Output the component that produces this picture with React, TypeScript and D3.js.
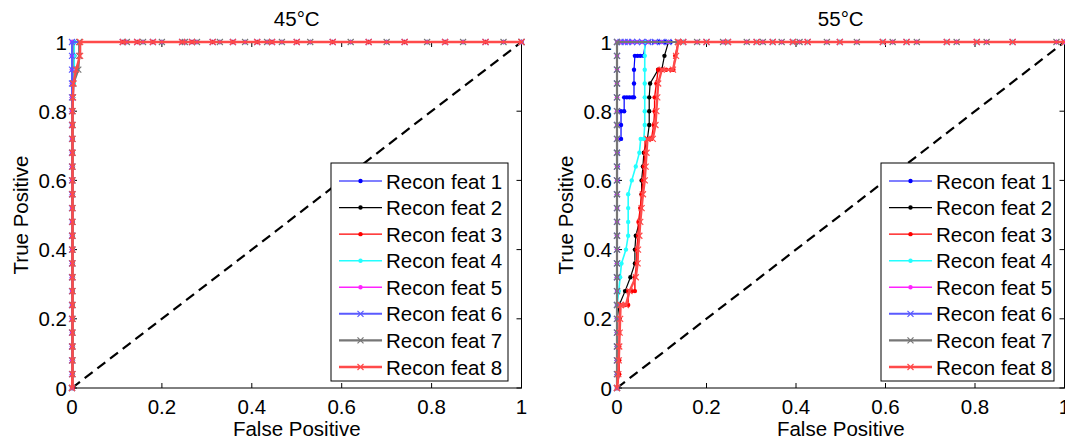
import React from 'react';
import * as d3 from 'd3';

type Pt = [number, number];

const LEGEND_LABELS = ['Recon feat 1', 'Recon feat 2', 'Recon feat 3', 'Recon feat 4', 'Recon feat 5', 'Recon feat 6', 'Recon feat 7', 'Recon feat 8'];
const TICK_VALUES = [0, 0.2, 0.4, 0.6, 0.8, 1];
const TICK_LABELS = ['0', '0.2', '0.4', '0.6', '0.8', '1'];
const TITLES = ['45\u00B0C', '55\u00B0C'];
const X_LABEL = 'False Positive';
const Y_LABEL = 'True Positive';
const CHANCE: Pt[] = [[0, 0], [1, 1]];

// ---------- 45°C ----------
const COL45_X0: Pt[] = [[0, 0], [0, 0.04], [0, 0.08], [0, 0.12], [0, 0.16], [0, 0.2], [0, 0.24], [0, 0.28], [0, 0.32], [0, 0.36], [0, 0.4], [0, 0.44], [0, 0.48], [0, 0.52], [0, 0.56], [0, 0.6], [0, 0.64], [0, 0.68], [0, 0.72], [0, 0.76], [0, 0.8], [0, 0.84], [0, 0.88], [0, 0.92], [0, 0.96], [0, 1]];
const COL45_X2: Pt[] = [[0.002, 0], [0.002, 0.04], [0.002, 0.08], [0.002, 0.12], [0.002, 0.16], [0.002, 0.2], [0.002, 0.24], [0.002, 0.28], [0.002, 0.32], [0.002, 0.36], [0.002, 0.4], [0.002, 0.44], [0.002, 0.48], [0.002, 0.52], [0.002, 0.56], [0.002, 0.6], [0.002, 0.64], [0.002, 0.68], [0.002, 0.72], [0.002, 0.76], [0.002, 0.8], [0.002, 0.84], [0.002, 0.88], [0.002, 0.92], [0.002, 0.96], [0.002, 1]];
const LOW45_X1: Pt[] = [[0, 0], [0.001, 0.04], [0.001, 0.08], [0.001, 0.12], [0.001, 0.16], [0.001, 0.2], [0.001, 0.24], [0.001, 0.28], [0.001, 0.32], [0.001, 0.36], [0.001, 0.4], [0.001, 0.44], [0.001, 0.48], [0.001, 0.52], [0.001, 0.56], [0.001, 0.6], [0.001, 0.64], [0.001, 0.68], [0.001, 0.72], [0.001, 0.76], [0.001, 0.8], [0.002, 0.84]];
const UP45_2: Pt[] = [[0.003, 0.88], [0.005, 0.92], [0.005, 0.96], [0.005, 1]];
const UP45_4: Pt[] = [[0.004, 0.88], [0.005, 0.92], [0.005, 0.96], [0.005, 1]];
const UP45_7: Pt[] = [[0.003, 0.88], [0.014, 0.92], [0.016, 0.96], [0.016, 1]];
const UP45_8: Pt[] = [[0.003, 0.88], [0.009, 0.92], [0.018, 0.96], [0.018, 1]];
const TOP45_A: Pt[] = [[0.113, 1], [0.145, 1], [0.18, 1], [0.245, 1], [0.267, 1], [0.313, 1], [0.358, 1], [0.412, 1], [0.445, 1], [0.5, 1], [0.58, 1], [0.66, 1], [0.74, 1], [0.83, 1], [0.92, 1], [1, 1]];
const TOP45_B: Pt[] = [[0.122, 1], [0.158, 1], [0.2, 1], [0.251, 1], [0.278, 1], [0.329, 1], [0.385, 1], [0.434, 1], [0.467, 1], [0.53, 1], [0.62, 1], [0.7, 1], [0.79, 1], [0.87, 1], [0.96, 1], [1, 1]];

const S45: Pt[][] = [
  [...COL45_X0, ...TOP45_A],
  [...LOW45_X1, ...UP45_2, ...TOP45_B],
  [...COL45_X2, ...TOP45_A],
  [...LOW45_X1, ...UP45_4, ...TOP45_B],
  [...COL45_X0, ...TOP45_B],
  [...COL45_X0, ...TOP45_A],
  [...LOW45_X1, ...UP45_7, ...TOP45_B],
  [...LOW45_X1, ...UP45_8, ...TOP45_A],
];

// ---------- 55°C ----------
const COL55_X0: Pt[] = [[0, 0], [0, 0.04], [0, 0.08], [0, 0.12], [0, 0.16], [0, 0.2], [0, 0.24], [0, 0.28], [0, 0.32], [0, 0.36], [0, 0.4], [0, 0.44], [0, 0.48], [0, 0.52], [0, 0.56], [0, 0.6], [0, 0.64], [0, 0.68], [0, 0.72], [0, 0.76], [0, 0.8], [0, 0.84], [0, 0.88], [0, 0.92], [0, 0.96], [0, 1]];
const TOPNEAR55: Pt[] = [[0.008, 1], [0.017, 1], [0.025, 1], [0.034, 1], [0.045, 1], [0.056, 1], [0.07, 1], [0.085, 1], [0.1, 1], [0.115, 1]];
const F55_1: Pt[] = [[0, 0], [0, 0.04], [0, 0.08], [0, 0.12], [0, 0.16], [0, 0.2], [0, 0.24], [0, 0.28], [0, 0.32], [0, 0.36], [0, 0.4], [0, 0.44], [0, 0.48], [0, 0.52], [0, 0.56], [0.001, 0.6], [0.001, 0.64], [0.001, 0.68], [0.001, 0.72], [0.009, 0.72], [0.009, 0.76], [0.009, 0.8], [0.016, 0.8], [0.016, 0.84], [0.022, 0.84], [0.028, 0.84], [0.034, 0.84], [0.038, 0.84], [0.038, 0.88], [0.038, 0.92], [0.04, 0.96], [0.046, 0.96], [0.052, 0.96], [0.059, 0.96], [0.064, 1], [0.072, 1], [0.082, 1], [0.094, 1], [0.108, 1], [0.12, 1]];
const F55_2: Pt[] = [[0, 0], [0, 0.04], [0, 0.08], [0, 0.12], [0, 0.16], [0, 0.2], [0.005, 0.24], [0.018, 0.28], [0.03, 0.32], [0.04, 0.36], [0.04, 0.4], [0.042, 0.44], [0.05, 0.48], [0.053, 0.52], [0.055, 0.56], [0.055, 0.6], [0.058, 0.64], [0.06, 0.68], [0.068, 0.72], [0.072, 0.76], [0.072, 0.8], [0.072, 0.84], [0.074, 0.88], [0.092, 0.92], [0.1, 0.92], [0.106, 0.96], [0.115, 1]];
const F55_3: Pt[] = [[0, 0], [0.005, 0.04], [0.005, 0.08], [0.005, 0.12], [0.005, 0.16], [0.005, 0.2], [0.007, 0.24], [0.018, 0.24], [0.025, 0.24], [0.025, 0.28], [0.033, 0.28], [0.04, 0.28], [0.04, 0.32], [0.044, 0.36], [0.044, 0.4], [0.047, 0.44], [0.048, 0.48], [0.052, 0.52], [0.055, 0.56], [0.058, 0.6], [0.06, 0.64], [0.062, 0.68], [0.063, 0.72], [0.07, 0.72], [0.077, 0.72], [0.082, 0.76], [0.084, 0.8], [0.084, 0.84], [0.088, 0.88], [0.092, 0.92], [0.1, 0.92], [0.11, 0.92], [0.12, 0.92], [0.126, 0.92], [0.13, 0.96], [0.137, 1]];
const F55_4: Pt[] = [[0, 0], [0, 0.04], [0, 0.08], [0, 0.12], [0, 0.16], [0, 0.2], [0, 0.24], [0.004, 0.28], [0.007, 0.32], [0.01, 0.36], [0.02, 0.4], [0.025, 0.44], [0.025, 0.48], [0.025, 0.52], [0.025, 0.56], [0.033, 0.6], [0.042, 0.64], [0.05, 0.68], [0.053, 0.72], [0.06, 0.72], [0.062, 0.76], [0.062, 0.8], [0.062, 0.84], [0.062, 0.88], [0.062, 0.92], [0.062, 0.96], [0.062, 1]];
const F55_8: Pt[] = [[0, 0], [0.003, 0.04], [0.004, 0.08], [0.005, 0.12], [0.006, 0.16], [0.007, 0.2], [0.008, 0.24], [0.02, 0.24], [0.028, 0.28], [0.042, 0.32], [0.046, 0.36], [0.047, 0.4], [0.05, 0.44], [0.052, 0.48], [0.055, 0.52], [0.058, 0.56], [0.062, 0.6], [0.064, 0.64], [0.066, 0.68], [0.068, 0.72], [0.08, 0.72], [0.086, 0.76], [0.088, 0.8], [0.09, 0.84], [0.092, 0.88], [0.1, 0.92], [0.125, 0.92], [0.132, 0.96], [0.137, 1]];
const TOP55_A: Pt[] = [[0.136, 1], [0.179, 1], [0.237, 1], [0.29, 1], [0.326, 1], [0.368, 1], [0.408, 1], [0.469, 1], [0.536, 1], [0.616, 1], [0.67, 1], [0.759, 1], [0.826, 1], [0.982, 1], [1, 1]];
const TOP55_B: Pt[] = [[0.148, 1], [0.2, 1], [0.248, 1], [0.312, 1], [0.348, 1], [0.393, 1], [0.426, 1], [0.498, 1], [0.594, 1], [0.647, 1], [0.737, 1], [0.804, 1], [0.884, 1], [1, 1]];

const S55: Pt[][] = [
  [...F55_1, ...TOP55_A],
  [...F55_2, ...TOP55_B],
  [...F55_3, ...TOP55_A],
  [...F55_4, ...TOPNEAR55.slice(7), ...TOP55_B],
  [...COL55_X0, ...TOPNEAR55, ...TOP55_A],
  [...COL55_X0, ...TOPNEAR55, ...TOP55_B],
  [...COL55_X0, ...TOP55_A],
  [...F55_8, ...TOP55_B],
];

// ---------- styles ----------
const SERIES_STYLE = [
  { color: '#0000ff', width: 1.2, marker: 'dot' },
  { color: '#000000', width: 1.2, marker: 'dot' },
  { color: '#ff0000', width: 1.4, marker: 'dot' },
  { color: '#22ffff', width: 1.6, marker: 'dot' },
  { color: '#ff22ff', width: 1.6, marker: 'dot' },
  { color: '#5a5aff', width: 2, marker: 'x' },
  { color: '#767676', width: 2.2, marker: 'x' },
  { color: '#ff4a4a', width: 2.4, marker: 'x' },
];

const FONT = '"Liberation Sans", Arial, Helvetica, sans-serif';
const FS = 20.5;

interface PanelProps {
  left: number; right: number; top: number; bottom: number;
  title: string; series: Pt[][]; legendLeft: number; legendRight: number;
  yLabelX: number;
}

function Marker({ x, y, kind, color }: { x: number; y: number; kind: string; color: string }) {
  if (kind === 'dot') return <circle cx={x} cy={y} r={2.2} fill={color} />;
  return <path d={`M${x - 3},${y - 3}L${x + 3},${y + 3}M${x - 3},${y + 3}L${x + 3},${y - 3}`} stroke={color} strokeWidth={1.2} fill="none" />;
}

function Panel(p: PanelProps) {
  const x = d3.scaleLinear().domain([0, 1]).range([p.left, p.right]);
  const y = d3.scaleLinear().domain([0, 1]).range([p.bottom, p.top]);
  const line = d3.line<Pt>().x(d => x(d[0])).y(d => y(d[1]));
  const tl = 5;
  const legTop = 163, legBottom = 381;
  const rowY = d3.scaleLinear().domain([0, 7]).range([181, 367]);
  return (
    <g>
      <rect x={p.left} y={p.top} width={p.right - p.left} height={p.bottom - p.top} fill="#fff" stroke="#000" strokeWidth={1} />
      {TICK_VALUES.map((t, i) => (
        <g key={'t' + i}>
          <line x1={x(t)} x2={x(t)} y1={p.bottom} y2={p.bottom - tl} stroke="#000" />
          <line x1={x(t)} x2={x(t)} y1={p.top} y2={p.top + tl} stroke="#000" />
          <line x1={p.left} x2={p.left + tl} y1={y(t)} y2={y(t)} stroke="#000" />
          <line x1={p.right} x2={p.right - tl} y1={y(t)} y2={y(t)} stroke="#000" />
          <text x={x(t)} y={p.bottom + 26} textAnchor="middle" fontFamily={FONT} fontSize={FS}>{TICK_LABELS[i]}</text>
          <text x={p.left - 5} y={y(t) + 7.5} textAnchor="end" fontFamily={FONT} fontSize={FS}>{TICK_LABELS[i]}</text>
        </g>
      ))}
      <text x={(p.left + p.right) / 2} y={26} textAnchor="middle" fontFamily={FONT} fontSize={FS}>{p.title}</text>
      <text x={(p.left + p.right) / 2} y={p.bottom + 48} textAnchor="middle" fontFamily={FONT} fontSize={FS}>{X_LABEL}</text>
      <text transform={`translate(${p.yLabelX},${(p.top + p.bottom) / 2}) rotate(-90)`} textAnchor="middle" fontFamily={FONT} fontSize={FS}>{Y_LABEL}</text>
      <path d={line(CHANCE) || ''} stroke="#000" strokeWidth={2.2} strokeDasharray="10,6" fill="none" />
      {p.series.map((s, i) => {
        const st = SERIES_STYLE[i];
        return (
          <g key={'s' + i}>
            <path d={line(s) || ''} stroke={st.color} strokeWidth={st.width} fill="none" />
            {s.map((d, j) => <Marker key={j} x={x(d[0])} y={y(d[1])} kind={st.marker} color={st.color} />)}
          </g>
        );
      })}
      <rect x={p.legendLeft} y={legTop} width={p.legendRight - p.legendLeft} height={legBottom - legTop} fill="#fff" stroke="#000" strokeWidth={1} />
      {LEGEND_LABELS.map((lab, i) => {
        const st = SERIES_STYLE[i];
        const ry = rowY(i);
        const x0 = p.legendLeft + 8, x1 = p.legendLeft + 51;
        return (
          <g key={'l' + i}>
            <line x1={x0} x2={x1} y1={ry} y2={ry} stroke={st.color} strokeWidth={st.width} />
            <Marker x={(x0 + x1) / 2} y={ry} kind={st.marker} color={st.color} />
            <text x={p.legendLeft + 55} y={ry + 7.5} fontFamily={FONT} fontSize={FS}>{lab}</text>
          </g>
        );
      })}
    </g>
  );
}

export default function App() {
  return (
    <svg width={1065} height={441} style={{ position: 'absolute', left: 0, top: 0, background: '#fff' }}>
      <rect x={0} y={0} width={1065} height={441} fill="#fff" />
      <Panel left={72} right={521.5} top={42} bottom={388} title={TITLES[0]} series={S45} legendLeft={331} legendRight={508} yLabelX={28} />
      <Panel left={617} right={1064.5} top={42} bottom={388} title={TITLES[1]} series={S55} legendLeft={881} legendRight={1054} yLabelX={573} />
    </svg>
  );
}
